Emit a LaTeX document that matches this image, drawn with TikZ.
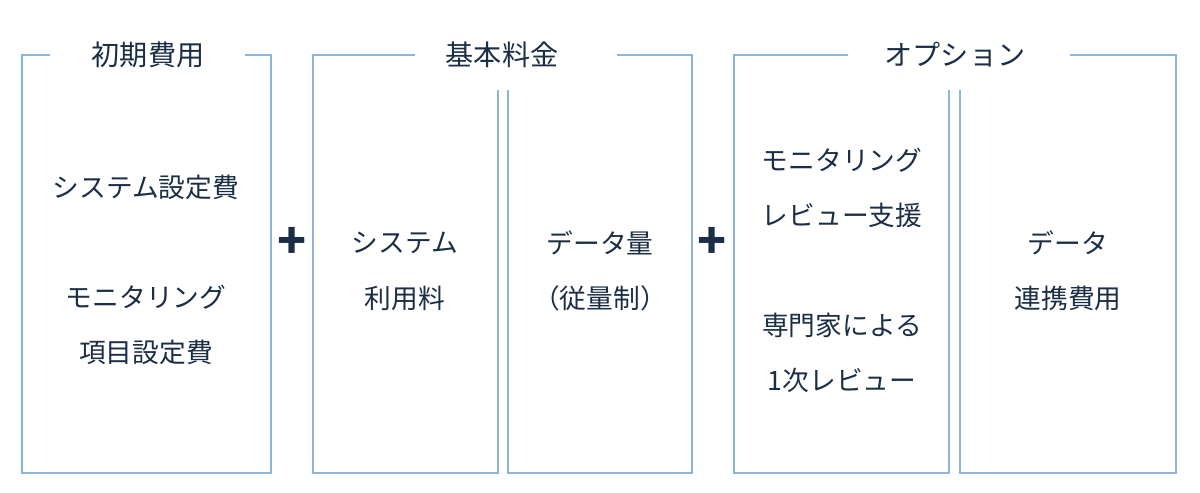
\documentclass[tikz,border=0pt]{standalone}
\usepackage{fontspec}
\setmainfont{Noto Sans CJK JP}
\definecolor{navy}{HTML}{1B2E45}
\definecolor{frame}{HTML}{8DB6DA}
\tikzset{
  label/.style = {text = navy, font = \fontsize{19}{24}\selectfont, inner sep = 0pt},
  title/.style = {label, font = \fontsize{20}{24}\selectfont},
  plus/.style = {text = navy, font = \fontsize{34}{34}\selectfont\bfseries, inner sep = 0pt},
  rim/.style = {draw = frame, line width = 0.8pt}
}
\begin{document}
\begin{tikzpicture}[x = 0.025cm, y = -0.025cm]
    \useasboundingbox (0,0) rectangle (1200,492);
    % frames
    \draw[rim] (50,55) -- (22,55) -- (22,473) -- (271,473) -- (271,55) -- (245,55);
    \draw[rim] (415,55) -- (313,55) -- (313,473) -- (498,473) -- (498,90);
    \draw[rim] (508,90) -- (508,473) -- (692,473) -- (692,55) -- (617,55);
    \draw[rim] (848,55) -- (734,55) -- (734,473) -- (949,473) -- (949,90);
    \draw[rim] (960,90) -- (960,473) -- (1176,473) -- (1176,55) -- (1070,55);
    % titles
    \node[title] (initial) at (148,55) {初期費用};
    \node[title] (basic) at (502,55) {基本料金};
    \node[title] (option) at (955,55) {オプション};
    % contents
    \node[label] (setup) at (146,187) {システム設定費};
    \node[label] (monitor) at (146,297) {モニタリング};
    \node[label] (item) at (146,352) {項目設定費};
    \node[label] (system) at (405,243) {システム};
    \node[label] (usage) at (405,298) {利用料};
    \node[label] (volume) at (600,243) {データ量};
    \node[label] (metered) at (600,298) {（従量制）};
    \node[label] (monitor2) at (842,160) {モニタリング};
    \node[label] (support) at (842,215) {レビュー支援};
    \node[label] (expert) at (842,325) {専門家による};
    \node[label] (first) at (842,380) {1次レビュー};
    \node[label] (data) at (1068,243) {データ};
    \node[label] (link) at (1068,298) {連携費用};
    % operators
    \node[plus] (plusa) at (292,243) {+};
    \node[plus] (plusb) at (712,243) {+};
\end{tikzpicture}
\end{document}
